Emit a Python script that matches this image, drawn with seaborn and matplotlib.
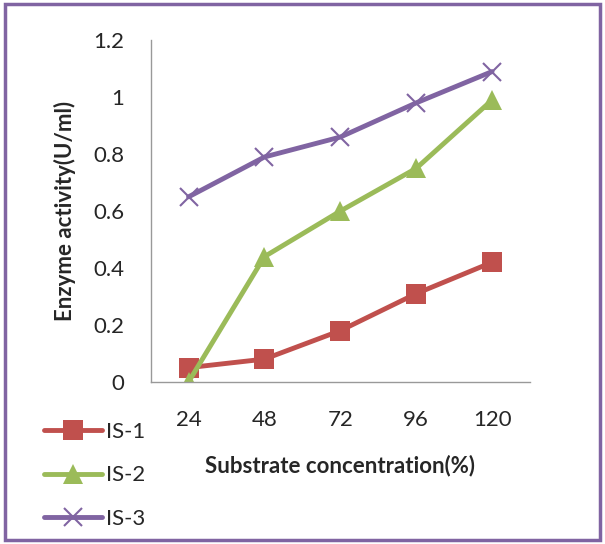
import pandas as pd
import matplotlib
matplotlib.use("Agg")
import matplotlib.pyplot as plt
import seaborn as sns
from matplotlib.patches import Rectangle

categories = ["24", "48", "72", "96", "120"]
is1 = [0.05, 0.08, 0.18, 0.31, 0.42]
is2 = [0.00, 0.44, 0.60, 0.75, 0.99]
is3 = [0.65, 0.79, 0.86, 0.98, 1.09]
series = ["IS-1", "IS-2", "IS-3"]
yticks = [0, 0.2, 0.4, 0.6, 0.8, 1, 1.2]
ytick_labels = ["0", "0.2", "0.4", "0.6", "0.8", "1", "1.2"]

sns.set_style("white")
plt.rcParams["font.family"] = ["Lato", "DejaVu Sans"]

df = pd.DataFrame({
    "conc": categories * 3,
    "activity": is1 + is2 + is3,
    "strain": sum([[s] * len(categories) for s in series], []),
})

colors = {"IS-1": "#C0504D", "IS-2": "#9BBB59", "IS-3": "#8064A2"}
markers = {"IS-1": "s", "IS-2": "^", "IS-3": "x"}

fig = plt.figure(figsize=(6.05, 5.44), dpi=100)
ax = fig.add_axes([0.249, 0.298, 0.627, 0.628])

for s in series:
    sub = df[df["strain"] == s]
    sns.lineplot(data=sub, x="conc", y="activity", ax=ax, color=colors[s],
                 marker=markers[s], markersize=14 if s != "IS-3" else 13,
                 markeredgewidth=1.5 if s == "IS-3" else 0,
                 markeredgecolor=colors[s], linewidth=3.5, label=s,
                 sort=False, legend=False)

ax.set_xlim(-0.5, 4.5)
ax.set_ylim(0, 1.2)
ax.set_yticks(yticks)
ax.set_yticklabels(ytick_labels)
ax.tick_params(axis="y", direction="out", length=5, color="#999999", width=1,
               labelsize=16, pad=14)
ax.tick_params(axis="x", length=0, labelsize=16, pad=20)
for side in ["top", "right"]:
    ax.spines[side].set_visible(False)
for side in ["left", "bottom"]:
    ax.spines[side].set_color("#999999")
    ax.spines[side].set_linewidth(1)

ax.set_xlabel("Substrate concentration(%)", fontsize=16, fontweight="bold", labelpad=18)
ax.set_ylabel("Enzyme activity(U/ml)", fontsize=16, fontweight="bold", labelpad=12)

handles = [ax.lines[i] for i in range(3)]
leg = fig.legend(handles, series, loc="upper left", bbox_to_anchor=(0.04, 0.261),
                 frameon=False, fontsize=16, handlelength=2.6, labelspacing=1.05,
                 handletextpad=0.2)

fig.patches.append(Rectangle((0.008, 0.008), 0.984, 0.984, transform=fig.transFigure,
                             fill=False, edgecolor="#8064A2", linewidth=2.5))

fig.savefig("out.png", dpi=100)
